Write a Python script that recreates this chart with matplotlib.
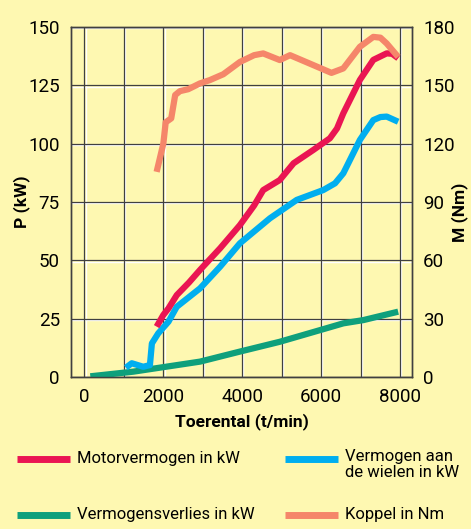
import matplotlib
matplotlib.use("Agg")
import matplotlib.pyplot as plt
import matplotlib.transforms as mtransforms
from matplotlib.lines import Line2D

plt.rcParams['font.family'] = ['Roboto', 'DejaVu Sans']

# data
rpm_motor = [1830, 2000, 2130, 2340, 2650, 2930, 3440, 3940, 4300, 4530, 4950, 5300, 5800, 6220, 6400, 6560, 6980, 7320, 7660, 7800, 7950]
kw_motor = [21.6, 26.6, 29.4, 35.1, 40.5, 45.9, 55.2, 65.1, 73.5, 80.1, 84.4, 91.6, 97.3, 102.3, 106.5, 113, 127.3, 135.9, 138.7, 138.5, 136.6]

rpm_wheels = [1050, 1200, 1490, 1660, 1710, 1870, 2130, 2340, 2930, 3440, 3940, 4700, 5380, 6050, 6350, 6560, 6980, 7320, 7500, 7660, 7950]
kw_wheels = [4.0, 5.9, 4.4, 5.1, 14.4, 18.7, 23.7, 30.1, 38.0, 47.3, 57.3, 68.0, 75.9, 80.1, 83.0, 87.3, 101.6, 110.1, 111.4, 111.6, 109.4]

rpm_loss = [150, 1240, 2930, 3940, 4950, 5970, 6560, 7070, 7950]
kw_loss = [0.3, 2.3, 6.6, 10.9, 15.1, 20.1, 23.0, 24.4, 28.0]

rpm_torque = [1830, 2000, 2060, 2200, 2300, 2420, 2630, 2930, 3180, 3520, 3940, 4300, 4530, 4950, 5210, 5800, 6260, 6560, 6980, 7320, 7500, 7660, 7950]
nm_torque = [105.5, 120, 131, 133, 145, 147, 148, 151, 152.7, 155.7, 162, 165.5, 166.4, 163, 165.5, 160.4, 156.4, 158.7, 169.8, 174.9, 174.5, 171.5, 164.6]

x_ticks = [0, 2000, 4000, 6000, 8000]
kw_ticks = [0, 25, 50, 75, 100, 125, 150]
nm_ticks = [0, 30, 60, 90, 120, 150, 180]

bg = '#fef8b1'
red = '#ea1553'
blue = '#00aeef'
green = '#0fa07c'
orange = '#f5866a'
gridc = '#404040'

fig = plt.figure(figsize=(4.71, 5.29), dpi=100, facecolor=bg)
ax = fig.add_axes([0.1507, 0.2873, 0.724, 0.6617])
ax.set_facecolor(bg)
ax.set_xlim(-340, 8300)
ax.set_ylim(0, 150)

# embossed grid: dark line with a white one next to it
shift = mtransforms.ScaledTranslation(1.2 / 100, -1.2 / 100, fig.dpi_scale_trans)
for gx in range(0, 9000, 1000):
    hl = ax.axvline(gx, color='white', lw=1.0, zorder=1)
    hl.set_transform(hl.get_transform() + shift)
    ax.axvline(gx, color=gridc, lw=0.9, zorder=1.1)
for gy in kw_ticks:
    hl = ax.axhline(gy, color='white', lw=1.0, zorder=1)
    hl.set_transform(hl.get_transform() + shift)
    ax.axhline(gy, color=gridc, lw=0.9, zorder=1.1)

ax2 = ax.twinx()
ax2.set_ylim(0, 180)

lw = 4.5
kw = dict(lw=lw, solid_capstyle='butt', solid_joinstyle='round')
ax.plot(rpm_loss, kw_loss, color=green, zorder=3, **kw)
ax.plot(rpm_wheels, kw_wheels, color=blue, zorder=4, **kw)
ax.plot(rpm_motor, kw_motor, color=red, zorder=5, **kw)
ax2.plot(rpm_torque, nm_torque, color=orange, **kw)

for a in (ax, ax2):
    for s in a.spines.values():
        s.set_color('#404040')
        s.set_linewidth(1.0)
    a.tick_params(length=0, labelsize=13.5, pad=8)

ax.set_xticks(x_ticks)
ax.set_yticks(kw_ticks)
ax2.set_yticks(nm_ticks)
ax.tick_params(axis='x', pad=8)

ax.set_xlabel('Toerental (t/min)', fontsize=12.5, fontweight='bold')
ax.set_ylabel('P (kW)', fontsize=12.5, fontweight='bold')
ax2.set_ylabel('M (Nm)', fontsize=12.5, fontweight='bold')
ax.xaxis.set_label_coords(0.5, -0.126)
ax.yaxis.set_label_coords(-0.145, 0.5)
ax2.yaxis.set_label_coords(1.14, 0.47)
ax.xaxis.label.set_va('center')
ax.yaxis.label.set_va('center')
ax2.yaxis.label.set_va('center')

# legend drawn by hand, two aligned columns
items = [
    (red, 'Motorvermogen in kW', 17, 459),
    (blue, 'Vermogen aan\nde wielen in kW', 285, 459),
    (green, 'Vermogensverlies in kW', 17, 515),
    (orange, 'Koppel in Nm', 285, 515),
]
W, H = 471, 529
for col, label, px, py in items:
    fig.add_artist(Line2D([px / W, (px + 53) / W], [1 - py / H, 1 - py / H],
                          color=col, lw=5, solid_capstyle='butt', transform=fig.transFigure))
    if '\n' in label:
        fig.text((px + 60) / W, 1 - (py - 10) / H, label, fontsize=12, va='top',
                 ha='left', linespacing=1.1)
    else:
        fig.text((px + 60) / W, 1 - py / H, label, fontsize=12, va='center', ha='left')

fig.savefig('out.png', dpi=100, facecolor=bg)
